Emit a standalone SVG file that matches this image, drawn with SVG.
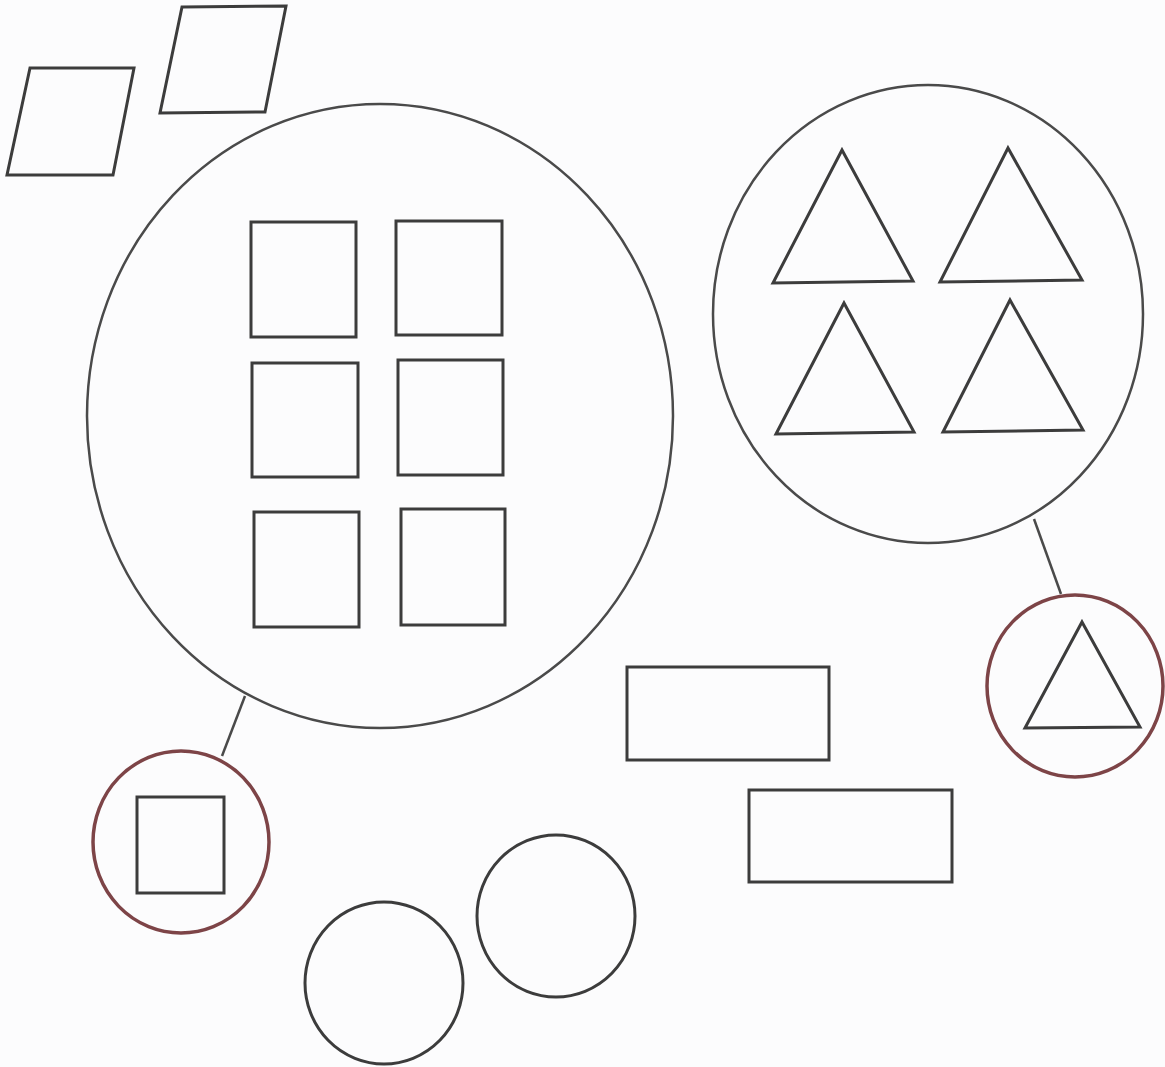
<svg xmlns="http://www.w3.org/2000/svg" width="1165" height="1067" viewBox="0 0 1165 1067">
<style>
.s{fill:none;stroke:#3c3c3c;stroke-width:3;stroke-linejoin:miter}
.b{fill:none;stroke:#4a4a4a;stroke-width:2.5}
.r{fill:none;stroke:#7d4447;stroke-width:3.5}
.c{fill:none;stroke:#4a4a4a;stroke-width:2.5}
</style>
<rect width="1165" height="1067" fill="#fcfcfd"/>
<g id="connectors">
<line class="c" x1="245" y1="696" x2="222" y2="756"/>
<line class="c" x1="1034" y1="519" x2="1061" y2="594"/>
</g>
<g id="parallelogram1"><polygon class="s" points="30,68 134,68 113,175 7,175"/></g>
<g id="parallelogram2"><polygon class="s" points="182,7 286,6 265,112 160,113"/></g>
<g id="big-circle">
<ellipse class="b" cx="380" cy="416" rx="293" ry="312"/>
<rect class="s" x="251" y="222" width="105" height="115"/>
<rect class="s" x="396" y="221" width="106" height="114"/>
<rect class="s" x="252" y="363" width="106" height="114"/>
<rect class="s" x="398" y="360" width="105" height="115"/>
<rect class="s" x="254" y="512" width="105" height="115"/>
<rect class="s" x="401" y="509" width="104" height="116"/>
</g>
<g id="triangle-circle">
<ellipse class="b" cx="928" cy="314" rx="215" ry="229"/>
<polygon class="s" points="842,150 913,281 773,283"/>
<polygon class="s" points="1008,148 1082,280 940,282"/>
<polygon class="s" points="844,303 914,432 776,434"/>
<polygon class="s" points="1010,300 1083,430 943,432"/>
</g>
<g id="small-triangle-circle">
<ellipse class="r" cx="1075" cy="686" rx="88" ry="91"/>
<polygon class="s" points="1082,622 1140,727 1025,728"/>
</g>
<g id="small-square-circle">
<ellipse class="r" cx="181" cy="842" rx="88" ry="91"/>
<rect class="s" x="137" y="797" width="87" height="96"/>
</g>
<g id="rect1"><rect class="s" x="627" y="667" width="202" height="93"/></g>
<g id="rect2"><rect class="s" x="749" y="790" width="203" height="92"/></g>
<g id="circle1"><ellipse class="s" cx="384" cy="983" rx="79" ry="81"/></g>
<g id="circle2"><ellipse class="s" cx="556" cy="916" rx="79" ry="81"/></g>
</svg>
